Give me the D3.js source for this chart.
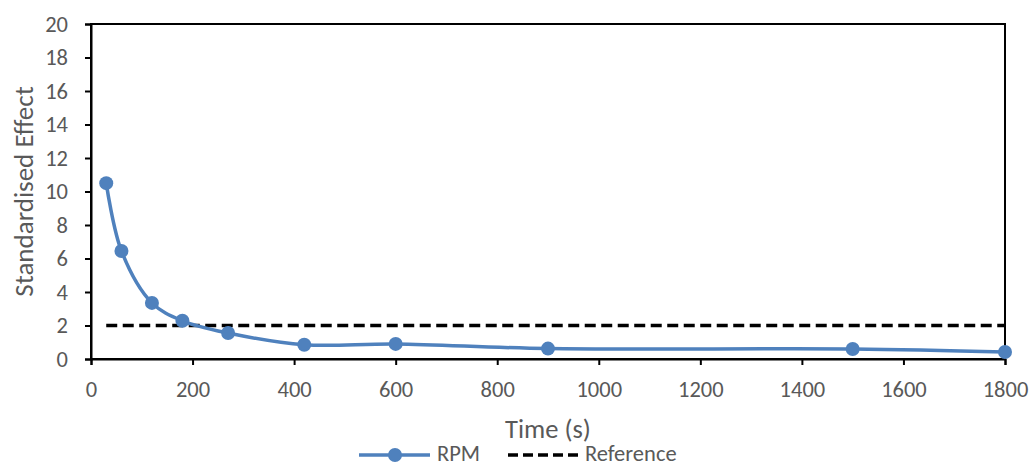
<!DOCTYPE html>
<html>
<head>
<meta charset="utf-8">
<script src="https://cdn.jsdelivr.net/npm/d3@7"></script>
<style>
  body { margin: 0; background: #fff; }
  svg text { font-family: Carlito, "Noto Sans", sans-serif; fill: #595959; }
</style>
</head>
<body>
<svg id="svg" width="1030" height="466"></svg>
<script>
const times = [30, 60, 120, 180, 270, 420, 600, 900, 1500, 1800];
const rpm = [10.5, 6.45, 3.35, 2.28, 1.55, 0.85, 0.9, 0.62, 0.6, 0.42];
const referenceLevel = 2;
const xTicks = [0, 200, 400, 600, 800, 1000, 1200, 1400, 1600, 1800];
const yTicks = [0, 2, 4, 6, 8, 10, 12, 14, 16, 18, 20];

const svg = d3.select("#svg");
const plotLeft = 91, plotRight = 1005, plotTop = 24, plotBottom = 359;
const font = 'Carlito, "Noto Sans", sans-serif';

const x = d3.scaleLinear().domain([0, 1800]).range([plotLeft, plotRight]);
const y = d3.scaleLinear().domain([0, 20]).range([plotBottom, plotTop]);

// plot frame
svg.append("rect")
    .attr("x", plotLeft).attr("y", plotTop)
    .attr("width", plotRight - plotLeft).attr("height", plotBottom - plotTop)
    .attr("fill", "none").attr("stroke", "#000").attr("stroke-width", 2);

const yAxis = svg.append("g")
    .attr("transform", `translate(${plotLeft},0)`)
    .call(d3.axisLeft(y).tickValues(yTicks).tickSize(6).tickPadding(17));
const xAxis = svg.append("g")
    .attr("transform", `translate(0,${plotBottom})`)
    .call(d3.axisBottom(x).tickValues(xTicks).tickFormat(d3.format("d")).tickSize(6).tickPadding(16));

[yAxis, xAxis].forEach(g => {
    g.select(".domain").attr("stroke", "#000").attr("stroke-width", 2);
    g.selectAll(".tick line").attr("stroke", "#000").attr("stroke-width", 2);
    g.selectAll(".tick text").attr("font-size", 22.5).attr("fill", "#595959")
        .attr("font-family", font);
});

// reference line
svg.append("line")
    .attr("x1", x(times[0])).attr("x2", x(1800))
    .attr("y1", y(referenceLevel)).attr("y2", y(referenceLevel))
    .attr("stroke", "#000").attr("stroke-width", 3.5)
    .attr("stroke-dasharray", "11,5.5");

// RPM series
const line = d3.line()
    .x((d, i) => x(times[i]))
    .y(d => y(d))
    .curve(d3.curveCatmullRom.alpha(0.5));

svg.append("path")
    .datum(rpm)
    .attr("d", line)
    .attr("fill", "none")
    .attr("stroke", "#4f81bd")
    .attr("stroke-width", 3.5);

svg.selectAll("circle.pt")
    .data(rpm)
    .join("circle")
    .attr("class", "pt")
    .attr("cx", (d, i) => x(times[i]))
    .attr("cy", d => y(d))
    .attr("r", 7)
    .attr("fill", "#4f81bd");

// axis titles
svg.append("text")
    .attr("transform", `translate(33,${(plotTop + plotBottom) / 2}) rotate(-90)`)
    .attr("text-anchor", "middle")
    .attr("font-size", 27)
    .text("Standardised Effect");

svg.append("text")
    .attr("x", (plotLeft + plotRight) / 2).attr("y", 438)
    .attr("text-anchor", "middle")
    .attr("font-size", 26.5)
    .text("Time (s)");

// legend
const lg = svg.append("g").attr("transform", "translate(0,455)");
lg.append("line").attr("x1", 359).attr("x2", 430).attr("y1", 0).attr("y2", 0)
    .attr("stroke", "#4f81bd").attr("stroke-width", 3.5);
lg.append("circle").attr("cx", 395).attr("cy", 0).attr("r", 7).attr("fill", "#4f81bd");
lg.append("text").attr("x", 437).attr("y", 5.5).attr("font-size", 22.5).text("RPM");
lg.append("line").attr("x1", 508).attr("x2", 580).attr("y1", 0).attr("y2", 0)
    .attr("stroke", "#000").attr("stroke-width", 3.5).attr("stroke-dasharray", "10,5");
lg.append("text").attr("x", 585).attr("y", 5.5).attr("font-size", 22.5).text("Reference");
</script>
</body>
</html>
